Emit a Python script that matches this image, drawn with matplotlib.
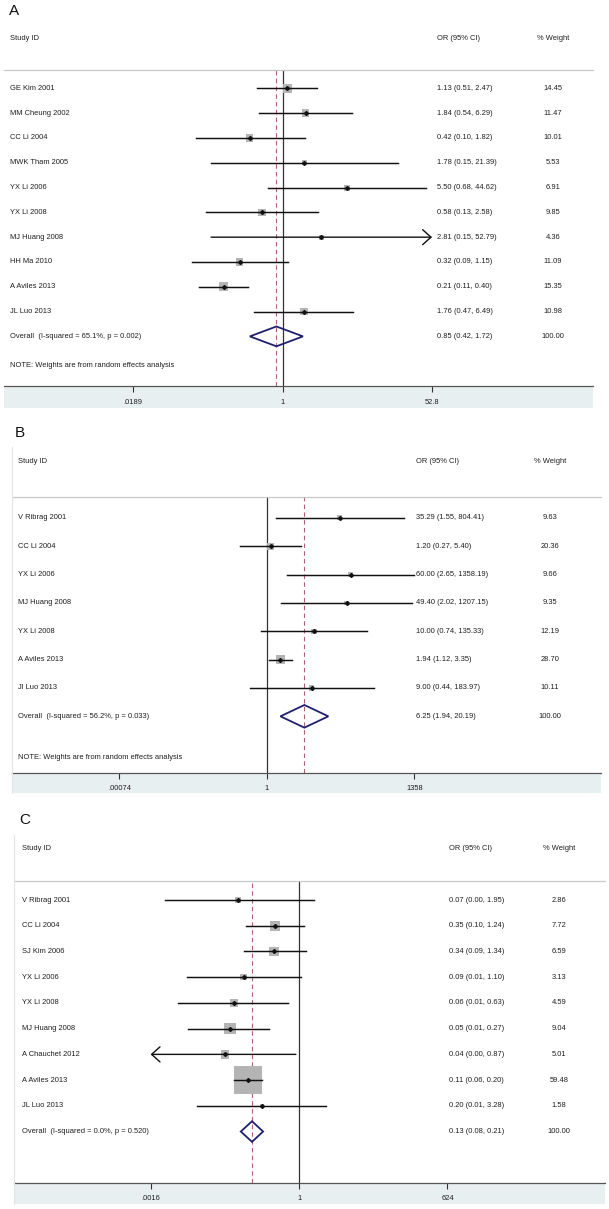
import numpy as np
import matplotlib
matplotlib.use('Agg')
import matplotlib.pyplot as plt
from matplotlib.patches import Polygon, Rectangle
from matplotlib.transforms import blended_transform_factory

plt.rcParams['font.family'] = ['Liberation Sans', 'DejaVu Sans']

# ---- panel A ----
studies_a = ['GE Kim 2001', 'MM Cheung 2002', 'CC Li 2004', 'MWK Tham 2005', 'YX Li 2006',
             'YX Li 2008', 'MJ Huang 2008', 'HH Ma 2010', 'A Aviles 2013', 'JL Luo 2013']
or_a = [1.13, 1.84, 0.42, 1.78, 5.50, 0.58, 2.81, 0.32, 0.21, 1.76]
lo_a = [0.51, 0.54, 0.10, 0.15, 0.68, 0.13, 0.15, 0.09, 0.11, 0.47]
hi_a = [2.47, 6.29, 1.82, 21.39, 44.62, 2.58, 52.79, 1.15, 0.40, 6.49]
w_a = [14.45, 11.47, 10.01, 5.53, 6.91, 9.85, 4.36, 11.09, 15.35, 10.98]
overall_a = (0.85, 0.42, 1.72)
overall_label_a = 'Overall  (I-squared = 65.1%, p = 0.002)'
ticks_a = [0.0189, 1, 52.8]
ticklabels_a = ['.0189', '1', '52.8']

# ---- panel B ----
studies_b = ['V Ribrag 2001', 'CC Li 2004', 'YX Li 2006', 'MJ Huang 2008', 'YX Li 2008',
             'A Aviles 2013', 'Jl Luo 2013']
or_b = [35.29, 1.20, 60.00, 49.40, 10.00, 1.94, 9.00]
lo_b = [1.55, 0.27, 2.65, 2.02, 0.74, 1.12, 0.44]
hi_b = [804.41, 5.40, 1358.19, 1207.15, 135.33, 3.35, 183.97]
w_b = [9.63, 20.36, 9.66, 9.35, 12.19, 28.70, 10.11]
overall_b = (6.25, 1.94, 20.19)
overall_label_b = 'Overall  (I-squared = 56.2%, p = 0.033)'
ticks_b = [0.00074, 1, 1358]
ticklabels_b = ['.00074', '1', '1358']

studies_c = ['V Ribrag 2001', 'CC Li 2004', 'SJ Kim 2006', 'YX Li 2006', 'YX Li 2008',
             'MJ Huang 2008', 'A Chauchet 2012', 'A Aviles 2013', 'JL Luo 2013']
or_c = [0.07, 0.35, 0.34, 0.09, 0.06, 0.05, 0.04, 0.11, 0.20]
lo_c = [0.003, 0.10, 0.09, 0.0078, 0.0053, 0.0082, 0.001, 0.06, 0.0121]
hi_c = [1.95, 1.24, 1.34, 1.10, 0.63, 0.27, 0.87, 0.20, 3.28]
w_c = [2.86, 7.72, 6.59, 3.13, 4.59, 9.04, 5.01, 59.48, 1.58]
overall_c = (0.13, 0.08, 0.21)
overall_label_c = 'Overall  (I-squared = 0.0%, p = 0.520)'
ticks_c = [0.0016, 1, 624]
ticklabels_c = ['.0016', '1', '624']

note = 'NOTE: Weights are from random effects analysis'

W, H = 609, 1209
fig = plt.figure(figsize=(W / 100, H / 100), dpi=100)
TXT = '#1e1e1e'
FS = 5.4


def draw_panel(letter, studies, ors, los, his, wts, overall, overall_label, ticks, ticklabels, lay):
    x0, x1, top, bottom = lay['x0'], lay['x1'], lay['top'], lay['bottom']
    ax = fig.add_axes([x0 / W, 1 - bottom / H, (x1 - x0) / W, (bottom - top) / H])
    # light strip under the axis
    fig.patches.append(Rectangle((x0 / W, 1 - lay['strip'] / H), (x1 - x0) / W,
                                 (lay['strip'] - bottom) / H, transform=fig.transFigure,
                                 facecolor='#e8eff1', edgecolor='none', zorder=-1))
    # x limits from the tick pixel positions (log scale)
    p_lo, p_hi = lay['tick_px']
    s = (p_hi - p_lo) / (np.log(ticks[-1]) - np.log(ticks[0]))
    null_px = p_lo - np.log(ticks[0]) * s
    ax.set_xscale('log')
    ax.set_xlim(np.exp((x0 - null_px) / s), np.exp((x1 - null_px) / s))
    n = len(studies)
    ax.set_ylim(n + 2, -0.74)
    ax.set_xticks(ticks)
    ax.set_xticklabels(ticklabels)
    ax.xaxis.set_minor_locator(plt.NullLocator())
    ax.set_yticks([])
    ax.tick_params(axis='x', direction='out', length=4, width=0.8, pad=5,
                   labelsize=FS, labelcolor=TXT, color='#333333')
    for sp in ['left', 'right']:
        ax.spines[sp].set_visible(False)
    ax.spines['top'].set_color('#c8c8c8')
    ax.spines['top'].set_linewidth(0.9)
    ax.spines['bottom'].set_color('#555555')
    ax.spines['bottom'].set_linewidth(0.9)

    ax.axvline(1, color='#333333', lw=0.9, zorder=1)
    ax.axvline(overall[0], color='#b06070', lw=0.8, ls=(0, (4, 3)), zorder=1)

    tmin, tmax = ticks[0], ticks[-1]
    for i in range(n):
        lo = max(los[i], tmin)
        hi = min(his[i], tmax)
        if studies[i] in lay.get('arrow_hi', []):
            ax.annotate('', xy=(tmax, i), xytext=(lo, i),
                        arrowprops=dict(arrowstyle='->,head_length=0.5,head_width=0.45',
                                        lw=1.0, color='#111111', shrinkA=0, shrinkB=0,
                                        mutation_scale=12))
        elif studies[i] in lay.get('arrow_lo', []):
            ax.annotate('', xy=(tmin, i), xytext=(hi, i),
                        arrowprops=dict(arrowstyle='->,head_length=0.5,head_width=0.45',
                                        lw=1.0, color='#111111', shrinkA=0, shrinkB=0,
                                        mutation_scale=12))
        else:
            ax.plot([lo, hi], [i, i], color='#111111', lw=1.05, zorder=3)
        side = lay['box_k'] * np.sqrt(wts[i]) * 0.72
        ax.scatter([ors[i]], [i], marker='s', s=side ** 2, color='#b4b4b4',
                   edgecolors='none', zorder=2)
        ax.plot([ors[i]], [i], marker='D', ms=2.0, color='#111111', zorder=4)

    est, olo, ohi = overall
    ax.add_patch(Polygon([(olo, n), (est, n - 0.4), (ohi, n), (est, n + 0.4)],
                         closed=True, fill=False, edgecolor='#1f1f70', lw=1.3, zorder=4))

    tr = blended_transform_factory(fig.transFigure, ax.transData)
    kw = dict(transform=tr, fontsize=FS, color=TXT, va='center', clip_on=False)
    ax.text(lay['label_x'] / W, -2, 'Study ID', ha='left', **kw)
    ax.text(lay['or_x'] / W, -2, 'OR (95% CI)', ha='left', **kw)
    ax.text(lay['wt_x'] / W, -2, '% Weight', ha='center', **kw)
    for i in range(n):
        ax.text(lay['label_x'] / W, i, studies[i], ha='left', **kw)
        ax.text(lay['or_x'] / W, i, f'{ors[i]:.2f} ({los[i]:.2f}, {his[i]:.2f})', ha='left', **kw)
        ax.text(lay['wt_x'] / W, i, f'{wts[i]:.2f}', ha='center', **kw)
    ax.text(lay['label_x'] / W, n, overall_label, ha='left', **kw)
    ax.text(lay['or_x'] / W, n, f'{est:.2f} ({olo:.2f}, {ohi:.2f})', ha='left', **kw)
    ax.text(lay['wt_x'] / W, n, f'{sum(wts):.2f}', ha='center', **kw)
    if lay.get('note_y') is not None:
        ax.text(lay['label_x'] / W, n + lay['note_y'], note, ha='left', **kw)

    fig.text(lay['letter'][0] / W, 1 - lay['letter'][1] / H, letter, fontsize=11,
             color='#111111', ha='left', va='center')
    if lay.get('frame'):
        fig.add_artist(plt.Line2D([x0 / W, x0 / W], [1 - lay['frame'] / H, 1 - lay['strip'] / H],
                                  transform=fig.transFigure, color='#e4e4e4', lw=0.8))
    return ax


lay_a = dict(x0=4, x1=593, top=70, bottom=386, strip=408, tick_px=(133, 432),
             label_x=10, or_x=437, wt_x=553, letter=(9, 11), note_y=1.17, box_k=2.3,
             arrow_hi=['MJ Huang 2008'])
lay_b = dict(x0=12, x1=601, top=497, bottom=773, strip=793, tick_px=(119.5, 414.4),
             label_x=18, or_x=416, wt_x=550, letter=(15, 433), note_y=1.45, box_k=1.6,
             frame=447)
lay_c = dict(x0=14, x1=605, top=881, bottom=1183, strip=1204, tick_px=(150.6, 447.5),
             label_x=22, or_x=449, wt_x=559, letter=(19, 820), note_y=None, box_k=3.7,
             frame=835, arrow_lo=['A Chauchet 2012'])

draw_panel('A', studies_a, or_a, lo_a, hi_a, w_a, overall_a, overall_label_a,
           ticks_a, ticklabels_a, lay_a)
draw_panel('B', studies_b, or_b, lo_b, hi_b, w_b, overall_b, overall_label_b,
           ticks_b, ticklabels_b, lay_b)
draw_panel('C', studies_c, or_c, lo_c, hi_c, w_c, overall_c, overall_label_c,
           ticks_c, ticklabels_c, lay_c)

fig.savefig('out.png', dpi=100, facecolor='white')
